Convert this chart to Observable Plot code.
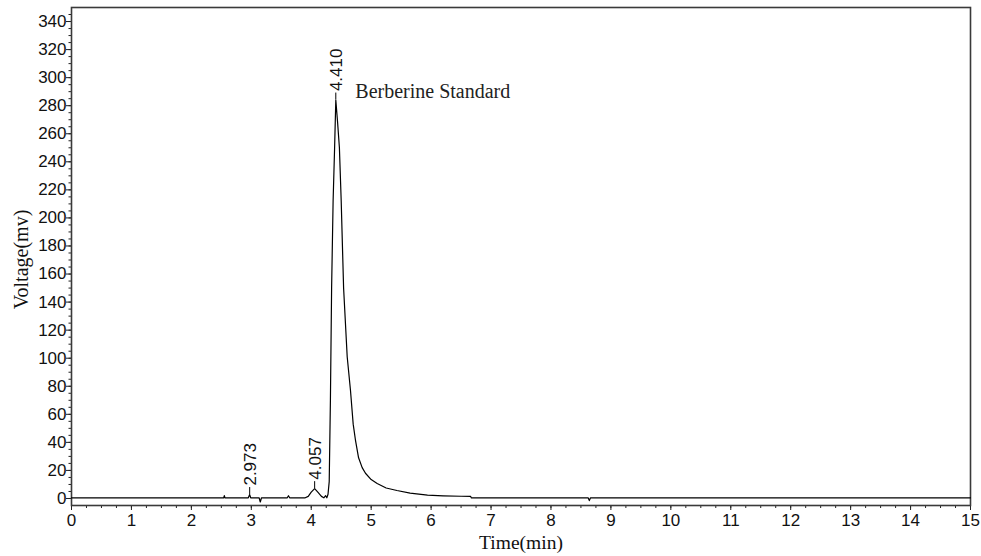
<!DOCTYPE html>
<html><head><meta charset="utf-8">
<script src="https://cdn.jsdelivr.net/npm/d3@7"></script>
<script src="https://cdn.jsdelivr.net/npm/@observablehq/plot@0.6"></script>
<style>body{margin:0;background:#fff}#chart svg{display:block}</style>
</head><body><div id="chart"></div>
<script>
// Chromatogram trace (time in min, voltage in mV)
const times = [0, 2.50, 2.54, 2.55, 2.56, 2.95, 2.973, 2.99, 3.13, 3.15, 3.17, 3.60, 3.62, 3.64,
  3.90, 3.95, 4.00, 4.057, 4.11, 4.17, 4.21, 4.24, 4.26, 4.28, 4.30, 4.32, 4.34, 4.365, 4.39, 4.41,
  4.44, 4.47, 4.50, 4.54, 4.60, 4.655, 4.70, 4.74, 4.79, 4.85, 4.905, 5.00, 5.10, 5.25, 5.43, 5.65,
  5.94, 6.20, 6.50, 6.66, 6.67, 8.62, 8.64, 8.66, 15];
const volts = [0.5, 0.5, 0.5, 2.0, 0.5, 0.5, 2.8, 0.5, 0.5, -2.5, 0.5, 0.5, 2.0, 0.5,
  0.5, 1.5, 4.5, 7.0, 4.5, 1.5, 0.5, 2.0, 0.5, 3, 12, 70, 150, 212, 250, 284,
  268, 250, 212, 150, 101, 77, 53, 41, 29, 22, 18, 13.5, 10.7, 7.5, 5.7, 3.8,
  2.4, 1.9, 1.6, 1.5, 0.5, 0.5, -1.5, 0.5, 0.5];

// Peak annotations
const peakTimes = [2.973, 4.057, 4.41];
const peakHeights = [2.8, 7.0, 284];
const peakLabels = ["2.973", "4.057", "4.410"];
const sampleName = "Berberine Standard";

// Axes
const xMajorTicks = [0, 1, 2, 3, 4, 5, 6, 7, 8, 9, 10, 11, 12, 13, 14, 15];
const xMinorTicks = d3.range(0, 15.001, 0.25);
const yMajorTicks = [0, 20, 40, 60, 80, 100, 120, 140, 160, 180, 200, 220, 240, 260, 280, 300, 320, 340];
const yMinorTicks = d3.range(0, 346, 5);
const xTitle = "Time(min)";
const yTitle = "Voltage(mv)";

const trace = times.map((t, i) => ({t, v: volts[i]}));
const peaks = peakTimes.map((t, i) => ({t, h: peakHeights[i], label: peakLabels[i]}));

const sans = "Liberation Sans, Arial, sans-serif";
const serif = "Liberation Serif, Times New Roman, serif";

const chart = Plot.plot({
  width: 981,
  height: 556,
  marginLeft: 71,
  marginRight: 11,
  marginTop: 7,
  marginBottom: 51,
  style: {background: "#fff", color: "#111"},
  x: {domain: [0, 15]},
  y: {domain: [-5, 350]},
  marks: [
    Plot.axisX({ticks: xMinorTicks, tickSize: 3, tickFormat: () => "", label: null, stroke: "#222"}),
    Plot.axisX({ticks: xMajorTicks, tickSize: 5, tickPadding: 3, label: null, fontSize: 17,
      fontFamily: sans, stroke: "#222", fill: "#111", tickFormat: d => String(d)}),
    Plot.axisY({ticks: yMinorTicks, tickSize: 2.5, tickFormat: () => "", label: null, stroke: "#222"}),
    Plot.axisY({ticks: yMajorTicks, tickSize: 5, tickPadding: 0, label: null, fontSize: 17,
      fontFamily: sans, stroke: "#222", fill: "#111", tickFormat: d => String(d)}),
    Plot.frame({stroke: "#3a3a3a", strokeWidth: 1.6}),
    Plot.line(trace, {x: "t", y: "v", stroke: "#000", strokeWidth: 1.2}),
    Plot.ruleX(peaks, {x: "t", y1: "h", y2: d => d.h + 5, stroke: "#000", strokeWidth: 1}),
    Plot.text(peaks, {x: "t", y: "h", text: "label", rotate: -90, textAnchor: "start",
      lineAnchor: "middle", dx: 1, dy: -9, fontSize: 17, fontFamily: sans, fill: "#111"}),
    Plot.text(peaks.slice(2), {x: "t", y: "h", text: () => sampleName, textAnchor: "start",
      lineAnchor: "bottom", dx: 19.5, dy: -2, fontSize: 20, fontFamily: serif, fill: "#222"}),
    Plot.text([xTitle], {frameAnchor: "bottom", text: d => d, lineAnchor: "bottom", dy: 43,
      fontSize: 19.5, fontFamily: serif, fill: "#111"}),
    Plot.text([yTitle], {frameAnchor: "left", text: d => d, rotate: -90, textAnchor: "middle",
      lineAnchor: "bottom", dx: -44, dy: 3, fontSize: 20, fontFamily: serif, fill: "#111"})
  ]
});
document.getElementById("chart").appendChild(chart);
</script>
</body></html>
